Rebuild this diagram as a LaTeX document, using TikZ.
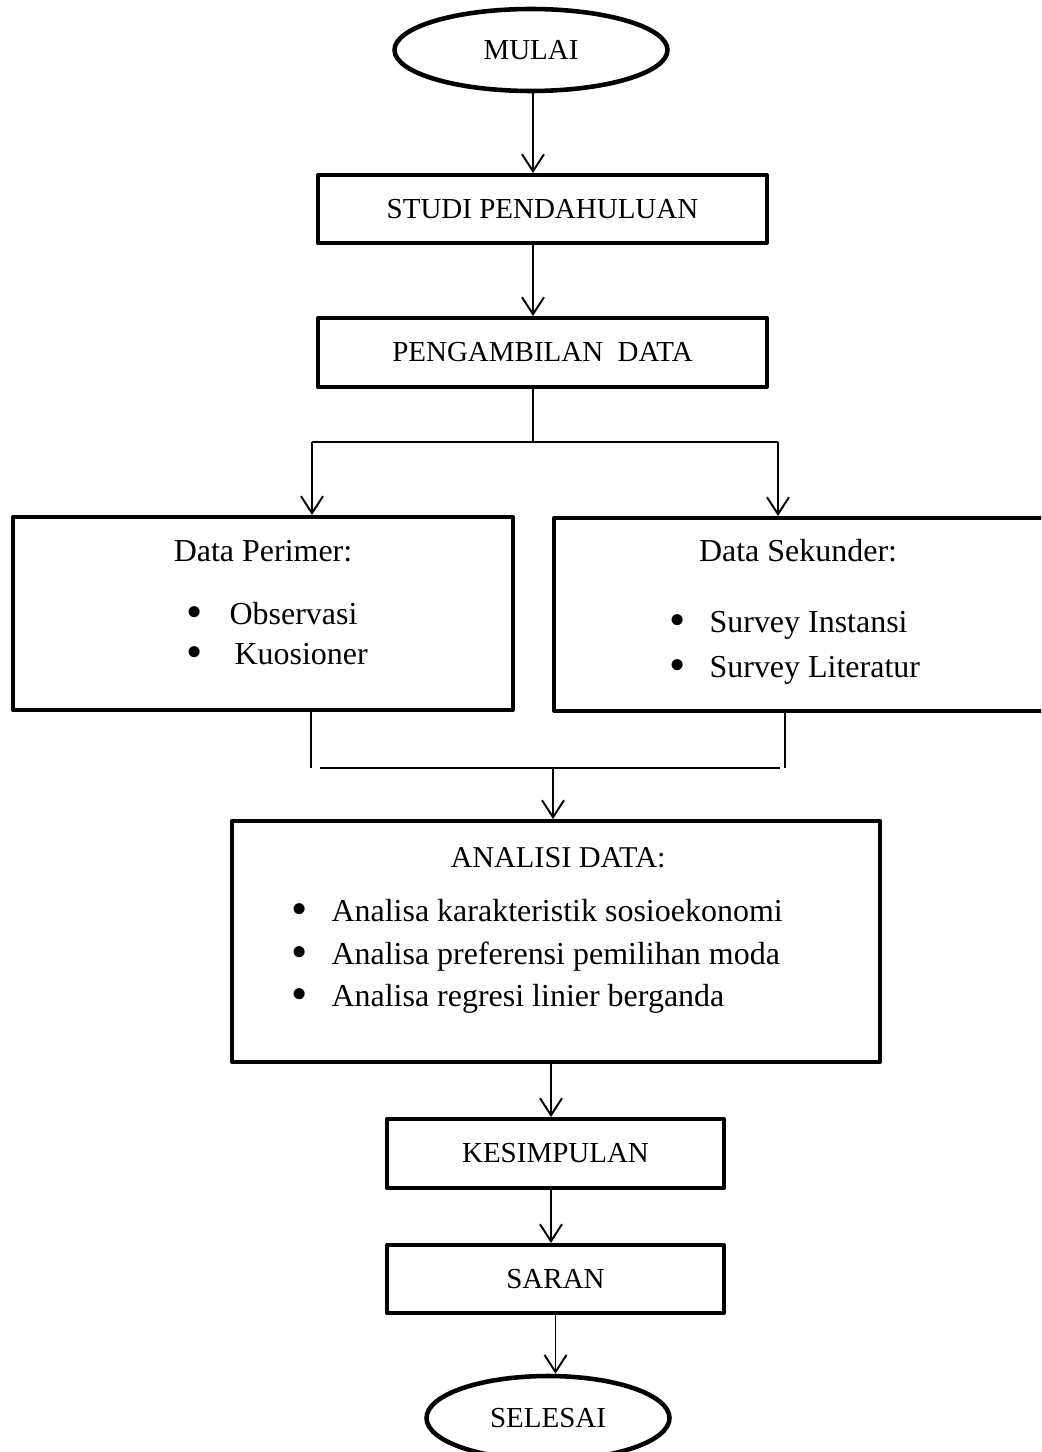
\documentclass[tikz,border=0pt]{standalone}
\usepackage{fontspec}
\setmainfont{Liberation Serif}
\usepackage{graphicx}
\usepackage{tikz}
\usetikzlibrary{arrows.meta,shapes.geometric,positioning}

\newcommand{\butir}[2][0.48cm]{\raisebox{-0.1em}{\scalebox{1.45}{\textbullet}}\hspace{#1}#2}

\begin{document}
\begin{tikzpicture}[x=0.02cm,y=-0.02cm,
  >={Straight Barb[length=0.34cm,width=0.44cm]},
  font=\fontsize{16.5pt}{20pt}\selectfont,
  box node/.style={rectangle,draw,line width=2.3pt,line join=round,inner sep=0pt},
  end node/.style={ellipse,draw,line width=2.6pt,inner sep=0pt},
  line/.style={draw,line width=1.1pt},
  arrow/.style={line,->},
  list text/.style={font=\fontsize{18.2pt}{22pt}\selectfont},
  item/.style={list text,anchor=base west,inner sep=0pt}]

  \useasboundingbox (0,0) rectangle (1041,1452);
  \clip (0,0) rectangle (1041,1452);

  % boxes
  \node[end node,minimum width=5.46cm,minimum height=1.64cm] (mulai) at (531,50) {MULAI};
  \node[box node,minimum width=8.98cm,minimum height=1.36cm] (studi) at (542.5,209) {STUDI PENDAHULUAN};
  \node[box node,minimum width=8.98cm,minimum height=1.38cm] (ambil) at (542.5,352.5) {PENGAMBILAN\ \ DATA};
  \node[box node,minimum width=10cm,minimum height=3.86cm] (primer) at (263,613.5) {};
  \node[box node,minimum width=9.84cm,minimum height=3.86cm] (sekunder) at (800,614.5) {};
  \node[box node,minimum width=12.96cm,minimum height=4.82cm] (analisi) at (556,941.5) {};
  \node[box node,minimum width=6.74cm,minimum height=1.38cm] (simpul) at (555.5,1153.5) {KESIMPULAN};
  \node[box node,minimum width=6.74cm,minimum height=1.36cm] (saran) at (555.5,1279) {SARAN};
  \node[end node,minimum width=4.86cm,minimum height=1.68cm] (selesai) at (548,1418) {SELESAI};

  % box contents
  \node[list text,anchor=base] (primerjudul) at (263,561) {Data Perimer:};
  \node[item] (observasi) at (186,624) {\butir[0.54cm]{Observasi}};
  \node[item] (kuosioner) at (186,664) {\butir[0.64cm]{Kuosioner}};
  \node[list text,anchor=base] (sekunderjudul) at (798,561) {Data Sekunder:};
  \node[item] (instansi) at (669,632) {\butir{Survey Instansi}};
  \node[item] (literatur) at (669,677) {\butir{Survey Literatur}};
  \node[anchor=base,font=\fontsize{17.2pt}{21pt}\selectfont] (analisijudul) at (558,867) {ANALISI DATA:};
  \node[item] (sosek) at (291,921) {\butir{Analisa karakteristik sosioekonomi}};
  \node[item] (moda) at (291,964) {\butir{Analisa preferensi pemilihan moda}};
  \node[item] (regresi) at (291,1006) {\butir{Analisa regresi linier berganda}};

  % connectors
  \coordinate (split) at (533,442);
  \coordinate (splitL) at (312,442);
  \coordinate (splitR) at (778,442);
  \coordinate (joinL) at (311,768);
  \coordinate (joinR) at (785,768);
  \coordinate (mergeA) at (320,768);
  \coordinate (mergeB) at (780,768);
  \coordinate (merge) at (553,768);
  \coordinate (lower) at (551,0);

  \draw[arrow] (mulai.south -| split) -- (studi.north -| split);
  \draw[arrow] (studi.south -| split) -- (ambil.north -| split);
  \draw[line] (ambil.south -| split) -- (split);
  \draw[line] (splitL) -- (splitR);
  \draw[arrow] (splitL) -- (splitL |- primer.north);
  \draw[arrow] (splitR) -- (splitR |- sekunder.north);
  \draw[line] (joinL |- primer.south) -- (joinL);
  \draw[line] (joinR |- sekunder.south) -- (joinR);
  \draw[line] (mergeA) -- (mergeB);
  \draw[arrow] (merge) -- (merge |- analisi.north);
  \draw[arrow] (analisi.south -| lower) -- (simpul.north -| lower);
  \draw[arrow] (simpul.south -| lower) -- (saran.north -| lower);
  \draw[arrow] (saran.south) -- (saran.south |- selesai.north);

\end{tikzpicture}
\end{document}
